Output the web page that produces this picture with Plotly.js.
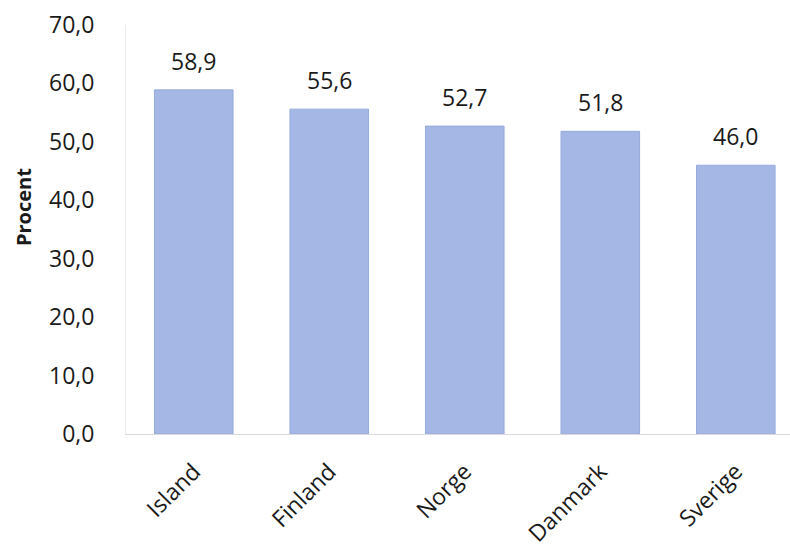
<!DOCTYPE html>
<html>
<head>
<meta charset="utf-8">
<script src="https://cdn.plot.ly/plotly-3.0.1.min.js"></script>
<style>html,body{margin:0;padding:0;background:#fff;}#chart{width:790px;height:547px;}</style>
</head>
<body>
<div id="chart"></div>
<script>
const categories = ["Island", "Finland", "Norge", "Danmark", "Sverige"];
const values = [58.9, 55.6, 52.7, 51.8, 46.0];
const yTitle = "Procent";

const fmt = v => v.toFixed(1).replace('.', ',');
const font = "'Open Sans', 'DejaVu Sans', sans-serif";

const trace = {
  type: 'bar',
  x: categories,
  y: values,
  width: 0.58,
  marker: { color: '#a5b8e5', line: { color: '#96abdd', width: 1 } },
  hoverinfo: 'skip'
};

const annotations = categories.map((c, i) => ({
  x: c, y: values[i], xref: 'x', yref: 'y',
  text: fmt(values[i]), showarrow: false,
  yanchor: 'middle', yshift: 29,
  font: { family: font, size: 23, color: '#1a1a1a' }
}));

annotations.push({
  xref: 'paper', yref: 'paper',
  x: -0.155, y: 0.555,
  xanchor: 'center', yanchor: 'middle',
  text: '<b>' + yTitle + '</b>', textangle: -90, showarrow: false,
  font: { family: font, size: 20, color: '#1a1a1a' }
});

const layout = {
  width: 790, height: 547,
  margin: { l: 126, r: 0, t: 25, b: 113 },
  paper_bgcolor: '#fff', plot_bgcolor: '#fff',
  separators: ', ',
  showlegend: false,
  xaxis: {
    range: [-0.5, 4.4],
    tickangle: -45,
    tickfont: { family: font, size: 23, color: '#1a1a1a' },
    ticklabelstandoff: 14,
    showline: true, linecolor: '#d9d9d9', linewidth: 1,
    showgrid: false, zeroline: false, ticks: '',
    fixedrange: true
  },
  yaxis: {
    range: [0, 70],
    dtick: 10, tick0: 0,
    tickformat: '.1f',
    tickfont: { family: font, size: 23, color: '#1a1a1a' },
    ticklabelstandoff: 26,
    showline: true, linecolor: '#ececec', linewidth: 1,
    showgrid: false, zeroline: false, ticks: '',
    fixedrange: true
  },
  annotations: annotations
};

Plotly.newPlot('chart', [trace], layout, { displayModeBar: false, staticPlot: true });
</script>
</body>
</html>
